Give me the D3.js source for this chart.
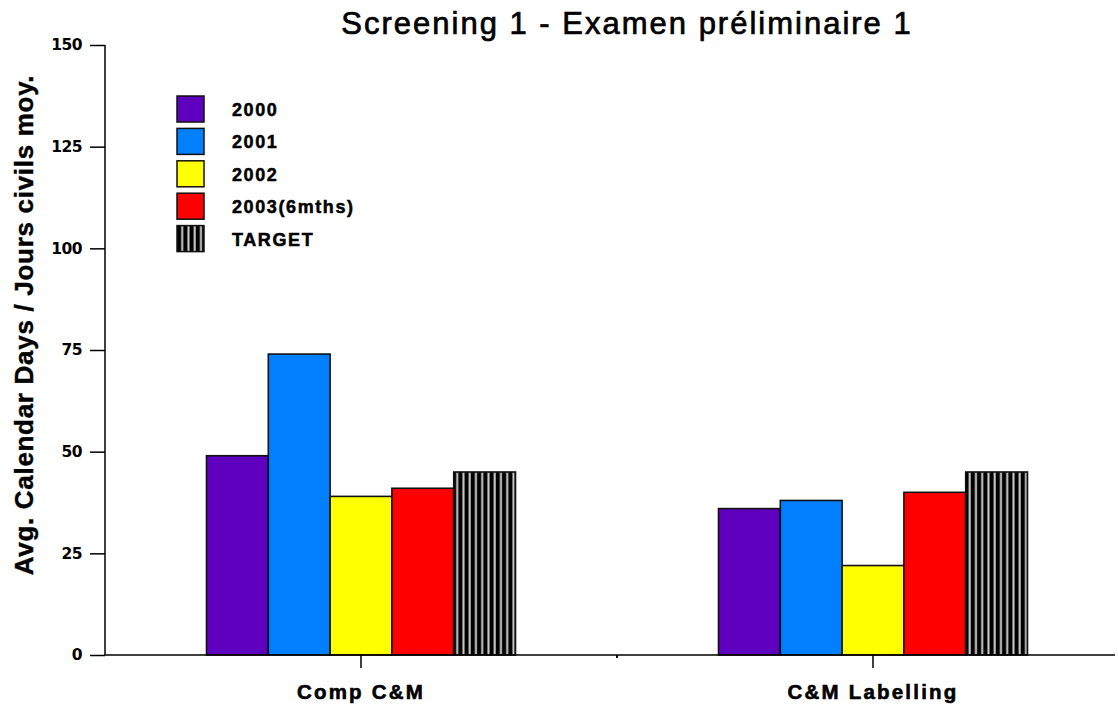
<!DOCTYPE html>
<html><head><meta charset="utf-8">
<script src="https://cdn.jsdelivr.net/npm/d3@7"></script>
<style>body{margin:0;background:#fff}svg{display:block}</style>
</head><body>
<script>
const categories = ["Comp C&M", "C&M Labelling"];
const seriesNames = ["2000", "2001", "2002", "2003(6mths)", "TARGET"];
const seriesColors = ["#5f00bf", "#0080ff", "#ffff00", "#ff0000", "url(#stripes)"];
const values2000 = [49, 36];
const values2001 = [74, 38];
const values2002 = [39, 22];
const values2003 = [41, 40];
const valuesTarget = [45, 45];
const yTicks = [0, 25, 50, 75, 100, 125, 150];

const allValues = [values2000, values2001, values2002, values2003, valuesTarget];
const W = 1118, H = 706;
const svg = d3.select("body").append("svg").attr("width", W).attr("height", H);

const defs = svg.append("defs");
const pat = defs.append("pattern").attr("id", "stripes").attr("patternUnits", "userSpaceOnUse")
  .attr("width", 6.25).attr("height", 8).attr("x", 454);
pat.append("rect").attr("width", 6.25).attr("height", 8).attr("fill", "#000");
pat.append("rect").attr("x", 2.2).attr("width", 2).attr("height", 8).attr("fill", "#d0d0d0");

const x0 = 105, y0 = 655;
const y = d3.scaleLinear().domain([0, 150]).range([655, 45]);
const xg = d3.scaleBand().domain(categories).range([105, 1129]).paddingInner(0).paddingOuter(0);
const xs = d3.scaleBand().domain(seriesNames).range([0, 309]);
const groupOffset = (xg.bandwidth() - 309) / 2;

// bars
seriesNames.forEach((s, si) => {
  svg.append("g").selectAll("rect").data(categories).join("rect")
    .attr("x", c => xg(c) + groupOffset + xs(s))
    .attr("y", (c, i) => y(allValues[si][i]))
    .attr("width", xs.bandwidth())
    .attr("height", (c, i) => y(0) - y(allValues[si][i]))
    .attr("fill", seriesColors[si])
    .attr("stroke", "#111").attr("stroke-width", 1.6);
});

// y axis
const yAxis = d3.axisLeft(y).tickValues(yTicks).tickSize(15).tickPadding(8);
const gy = svg.append("g").attr("transform", `translate(${x0},0)`).call(yAxis);
gy.select(".domain").attr("stroke", "#000").attr("stroke-width", 1.5).attr("d", "M0,45V655");
gy.selectAll(".tick line").attr("stroke", "#000").attr("stroke-width", 1.5);
gy.selectAll(".tick text").attr("font-family", "DejaVu Sans").attr("font-weight", "bold")
  .attr("font-size", 15.5).attr("fill", "#000").attr("letter-spacing", -0.5);

// x axis
const gx = svg.append("g").attr("transform", `translate(0,${y0})`);
gx.append("line").attr("x1", x0).attr("x2", 1115).attr("stroke", "#000").attr("stroke-width", 1.5);
gx.selectAll(".ct").data(categories).join("line")
  .attr("x1", c => xg(c) + xg.bandwidth() / 2).attr("x2", c => xg(c) + xg.bandwidth() / 2)
  .attr("y1", 0).attr("y2", 13).attr("stroke", "#000").attr("stroke-width", 1.5);
gx.append("line").attr("x1", xg(categories[1])).attr("x2", xg(categories[1]))
  .attr("y1", 0).attr("y2", 3).attr("stroke", "#000").attr("stroke-width", 2);
gx.selectAll(".cl").data(categories).join("text")
  .attr("x", c => xg(c) + xg.bandwidth() / 2).attr("y", 44)
  .attr("text-anchor", "middle").attr("font-family", "Liberation Sans").attr("font-weight", "bold")
  .attr("font-size", 20.5).attr("letter-spacing", 2.2).attr("stroke", "#000").attr("stroke-width", 0.6)
  .text(c => c);

// title
svg.append("text").attr("x", 627).attr("y", 34).attr("text-anchor", "middle")
  .attr("font-family", "Liberation Sans").attr("font-size", 31).attr("letter-spacing", 2)
  .attr("stroke", "#000").attr("stroke-width", 0.7)
  .text("Screening 1 - Examen préliminaire 1");

// y label
svg.append("text").attr("transform", "translate(33,325) rotate(-90)").attr("text-anchor", "middle")
  .attr("font-family", "Liberation Sans").attr("font-weight", "bold").attr("font-size", 26)
  .attr("letter-spacing", 0.7).attr("stroke", "#000").attr("stroke-width", 0.4)
  .text("Avg. Calendar Days / Jours civils moy.");

// legend
const lg = svg.append("g");
seriesNames.forEach((s, i) => {
  const ty = 96 + i * 32.4;
  lg.append("rect").attr("x", 177).attr("y", ty).attr("width", 27).attr("height", 26)
    .attr("fill", seriesColors[i]).attr("stroke", "#111").attr("stroke-width", 1.5);
  lg.append("text").attr("x", 232).attr("y", ty + 20).attr("font-family", "Liberation Sans")
    .attr("font-weight", "bold").attr("font-size", 18).attr("letter-spacing", 1.6)
    .attr("stroke", "#000").attr("stroke-width", 0.5).text(s);
});
</script>
</body></html>
